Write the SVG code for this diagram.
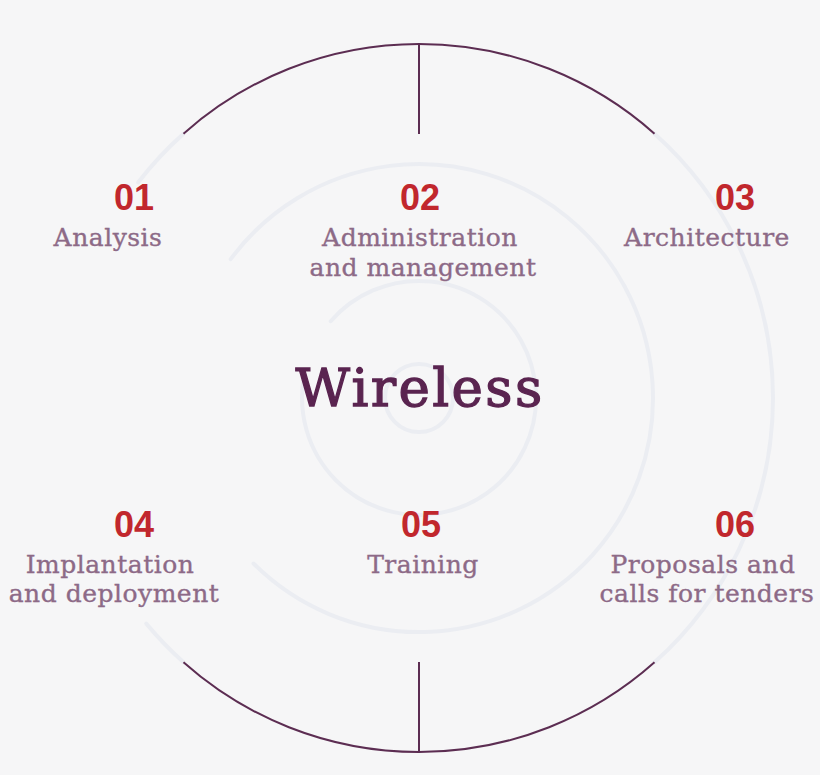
<svg xmlns="http://www.w3.org/2000/svg" width="820" height="775" viewBox="0 0 820 775">
<style>
.ring{fill:none;stroke:#ebedf2;stroke-width:4;stroke-linecap:round}
.edge{fill:none;stroke:#5c2d52;stroke-width:2}
.num{font-family:"Liberation Sans",Arial,sans-serif;font-weight:bold;font-size:36px;fill:#c1272d;text-anchor:middle}
.lbl{font-family:"DejaVu Serif","Liberation Serif",serif;font-size:25px;fill:#8d6a87;stroke:#8d6a87;stroke-width:0.35;text-anchor:middle;letter-spacing:0.5px}
.title{font-family:"DejaVu Serif","Liberation Serif",serif;font-size:53px;fill:#5a2450;stroke:#5a2450;stroke-width:1.3;text-anchor:middle;letter-spacing:2.4px}
</style>
<rect width="820" height="775" fill="#f6f6f7"/>
<g id="rings">
<path class="ring" d="M654.5,133.7 A354,354 0 0 1 654.5,662.3"/>
<path class="ring" d="M138.1,182.5 A354,354 0 0 1 183.5,133.7"/>
<path class="ring" d="M183.5,662.3 A354,354 0 0 1 146.2,623.6"/>
<path class="ring" d="M230.7,259.1 A234,234 0 1 1 253.5,563.5"/>
<path class="ring" d="M330.7,321.2 A117,117 0 1 1 303.8,377.7"/>
<circle class="ring" cx="419" cy="398" r="34"/>
</g>
<g id="connectors">
<path class="edge" d="M183.5,133.7 A354,354 0 0 1 654.5,133.7"/>
<path class="edge" d="M654.5,662.3 A354,354 0 0 1 183.5,662.3"/>
<line class="edge" x1="419" y1="44" x2="419" y2="134"/>
<line class="edge" x1="419" y1="662" x2="419" y2="752"/>
</g>
<g id="center"><text class="title" x="420" y="406">Wireless</text></g>
<g id="node01"><text class="num" x="134" y="210">01</text><text class="lbl" x="108" y="246">Analysis</text></g>
<g id="node02"><text class="num" x="420" y="210">02</text><text class="lbl" x="420" y="246">Administration</text><text class="lbl" x="423" y="276">and management</text></g>
<g id="node03"><text class="num" x="735" y="210">03</text><text class="lbl" x="707" y="246">Architecture</text></g>
<g id="node04"><text class="num" x="134" y="537">04</text><text class="lbl" x="110" y="573">Implantation</text><text class="lbl" x="114" y="602">and deployment</text></g>
<g id="node05"><text class="num" x="421" y="537">05</text><text class="lbl" x="423" y="573">Training</text></g>
<g id="node06"><text class="num" x="735" y="537">06</text><text class="lbl" x="703" y="573">Proposals and</text><text class="lbl" x="707" y="602">calls for tenders</text></g>
</svg>
